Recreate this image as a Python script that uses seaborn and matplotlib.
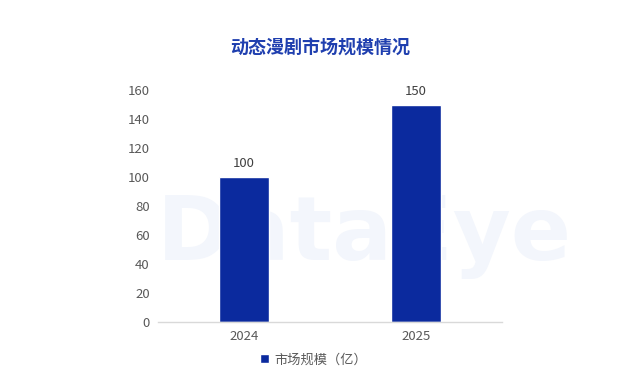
import matplotlib
matplotlib.use("Agg")
import matplotlib.pyplot as plt
import seaborn as sns
import pandas as pd
from matplotlib.patches import Patch

years = ["2024", "2025"]
values = [100, 150]
series_name = "市场规模（亿）"
title = "动态漫剧市场规模情况"

sns.set_theme(style="white")
plt.rcParams['font.family'] = ['Noto Sans CJK SC', 'DejaVu Sans']

df = pd.DataFrame({"year": years, "value": values, "series": series_name})

fig = plt.figure(figsize=(6.4, 3.69), dpi=100)

# faint watermark behind everything
fig.text(0.57, 0.295, "DataEye", fontsize=64, fontweight="bold", color="#F3F6FC",
         family="DejaVu Sans", ha="center", va="baseline", zorder=0)

ax = fig.add_axes([0.247, 0.127, 0.537, 0.629])
ax.set_zorder(1)
ax.patch.set_alpha(0)

bar_color = "#0B2A9E"
sns.barplot(data=df, x="year", y="value", hue="series", palette=[bar_color],
            width=0.29, ax=ax, legend=False, saturation=1)

ax.set_ylim(0, 160)
ax.set_xlim(-0.5, 1.5)
ax.set_yticks(range(0, 161, 20))
ax.set_xlabel("")
ax.set_ylabel("")
for s in ["top", "right", "left"]:
    ax.spines[s].set_visible(False)
ax.spines["bottom"].set_color("#D9D9D9")
ax.spines["bottom"].set_linewidth(1.0)
ax.tick_params(axis="both", length=0, labelsize=9.5, labelcolor="#595959")
ax.tick_params(axis="y", pad=6)
ax.tick_params(axis="x", pad=6)

for c in ax.containers:
    ax.bar_label(c, labels=[str(v) for v in values], padding=5, fontsize=9.5, color="#404040")

fig.text(0.5, 0.87, title, fontsize=13, fontweight="bold", color="#1F3FAF",
         ha="center", va="center")

handles = [Patch(facecolor=bar_color, label=series_name)]
fig.legend(handles=handles, loc="center", bbox_to_anchor=(0.49, 0.025), frameon=False,
           fontsize=9.5, handlelength=0.7, handleheight=0.7, handletextpad=0.4,
           labelcolor="#595959")

fig.savefig("out.png", dpi=100, facecolor="white")
